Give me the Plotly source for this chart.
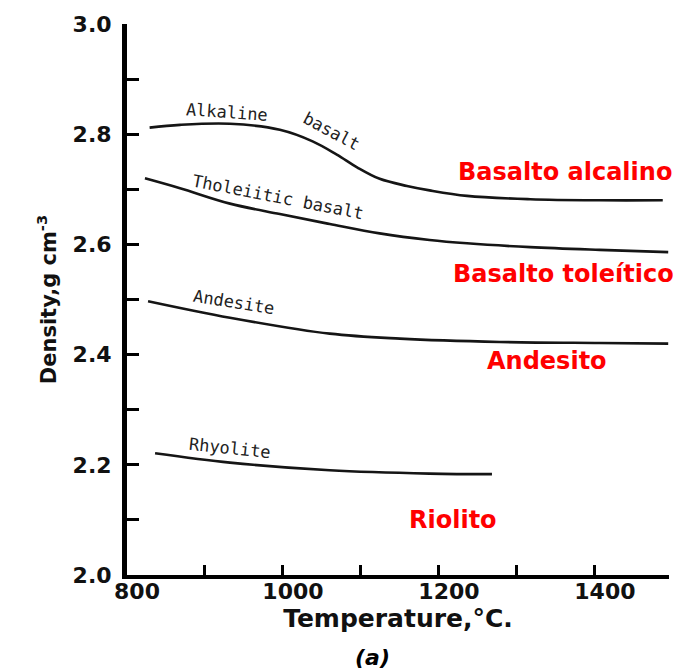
import plotly.graph_objects as go

# ---- data ----
alk_T = [829, 868, 932, 996, 1038, 1069, 1095, 1124, 1159, 1188, 1236, 1317, 1406, 1487]
alk_d = [2.812, 2.817, 2.819, 2.808, 2.787, 2.763, 2.740, 2.719, 2.706, 2.698, 2.688, 2.682, 2.680, 2.680]

thol_T = [823, 868, 932, 996, 1060, 1124, 1188, 1236, 1317, 1406, 1494]
thol_d = [2.720, 2.702, 2.674, 2.655, 2.637, 2.620, 2.608, 2.602, 2.595, 2.590, 2.586]

and_T = [827, 932, 1060, 1150, 1278, 1406, 1494]
and_d = [2.497, 2.467, 2.438, 2.429, 2.423, 2.421, 2.420]

rhy_T = [836, 932, 1060, 1188, 1268]
rhy_d = [2.221, 2.204, 2.190, 2.184, 2.183]

x_ticks = [800, 900, 1000, 1100, 1200, 1300, 1400]
x_ticktext = ["800", "", "1000", "", "1200", "", "1400"]
y_ticks = [2.0, 2.1, 2.2, 2.3, 2.4, 2.5, 2.6, 2.7, 2.8, 2.9, 3.0]
y_ticktext = ["2.0", "", "2.2", "", "2.4", "", "2.6", "", "2.8", "", "3.0"]

series = [
    ("Alkaline basalt", alk_T, alk_d),
    ("Tholeiitic basalt", thol_T, thol_d),
    ("Andesite", and_T, and_d),
    ("Rhyolite", rhy_T, rhy_d),
]

fig = go.Figure()
for name, xs, ys in series:
    fig.add_trace(go.Scatter(x=xs, y=ys, mode="lines", name=name,
                             line=dict(color="#151515", width=2.6, shape="spline", smoothing=1.0),
                             hoverinfo="x+y+name"))

hand = dict(family="DejaVu Sans Mono", size=17, color="#222222")
black_labels = [
    ("Alkaline", 928, 2.841, 4),
    ("basalt", 1062, 2.806, 28),
    ("Tholeiitic basalt", 994, 2.686, 11),
    ("Andesite", 937, 2.495, 9),
    ("Rhyolite", 932, 2.231, 6),
]
for txt, x, y, ang in black_labels:
    fig.add_annotation(x=x, y=y, text=txt, showarrow=False, textangle=ang, font=hand)

red = dict(family="DejaVu Sans", size=24, color="#FF0000", weight="bold")
red_labels = [
    ("Basalto alcalino", 1362, 2.732),
    ("Basalto toleítico", 1360, 2.546),
    ("Andesito", 1338, 2.389),
    ("Riolito", 1218, 2.099),
]
for txt, x, y in red_labels:
    fig.add_annotation(x=x, y=y, text=txt, showarrow=False, font=red)

fig.add_annotation(x=1115, y=-0.15, xref="x", yref="paper", yanchor="middle",
                   text="<i>(a)</i>", showarrow=False,
                   font=dict(family="DejaVu Sans", size=22, color="black", weight="bold"))

tickfont = dict(family="DejaVu Sans", size=22, color="#111111", weight="bold")
fig.update_layout(
    width=681, height=670,
    margin=dict(l=127, r=12, t=22, b=95),
    paper_bgcolor="white", plot_bgcolor="white",
    showlegend=False,
    xaxis=dict(range=[800, 1495], tickvals=x_ticks, ticktext=x_ticktext,
               ticks="inside", ticklen=10, tickwidth=2.5, tickcolor="black",
               showline=True, linewidth=4, linecolor="black", showgrid=False, zeroline=False,
               tickfont=tickfont, ticklabelshift=10, ticklabelstandoff=-6,
               title=dict(text="Temperature,°C.", standoff=6,
                          font=dict(family="DejaVu Sans", size=25, color="#111111", weight="bold"))),
    yaxis=dict(range=[2.0, 3.0], tickvals=y_ticks, ticktext=y_ticktext,
               ticks="inside", ticklen=12, tickwidth=2.5, tickcolor="black",
               showline=True, linewidth=5, linecolor="black", showgrid=False, zeroline=False,
               tickfont=tickfont, ticklabelstandoff=6,
               title=dict(text="Density,g cm<sup>-3</sup>", standoff=12,
                          font=dict(family="DejaVu Sans", size=21, color="#111111", weight="bold"))),
)

fig.write_html("out.html")
